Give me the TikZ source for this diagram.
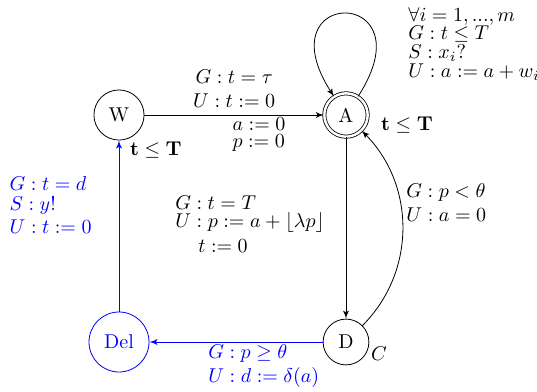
\documentclass[tikz,border=0pt]{standalone}
\usepackage{amsmath, amssymb}
\usepackage{xcolor}
\usetikzlibrary{arrows,positioning}

\begin{document}
\begin{tikzpicture}[
	node distance=113.5pt,
	>=latex',
	loc/.style={
		circle,
		draw,
		inner sep=4.5pt
	},
	line/.style={
		draw,
		->
	},
	upd/.style={
		align=left,
		inner sep=#1
	},
	upd/.default=3pt
	]
	\useasboundingbox (-59.5pt,-138.5pt) rectangle (209pt,57.5pt);
	
	% Locations
	\node[loc, label={[anchor=north west, inner sep=1pt]-70:$\mathbf{t \leq T}$}] (W) at (0,0) {W};
	\node[loc, double, double distance=1.2pt, inner sep=4pt, on grid, right=of W,
		label={[label distance=3pt, yshift=-5pt]right:$\mathbf{t \leq T}$}] (A) {A};
	\node[loc, on grid, below=of A,
		label={[label distance=-1pt, xshift=-1pt, yshift=5pt]-20:$C$}] (D) {D};
	\node[loc, draw=blue, text=blue, minimum size=30pt, on grid, below=of W] (Del) {Del};
	
	% Transitions
	\path[line] (W) -- node[above, align=center] {$G : t = \tau$\\$U : t := 0$}
		node[below right, upd=1pt, xshift=-2pt] {$a := 0$\\[-3.5pt]$p := 0$} (A);
	\path[line] (A) to[out=57, in=123, looseness=8, min distance=66pt] (A);
	\node[upd, anchor=west] (sel) at ([shift={(28pt,35.5pt)}]A.center)
		{$\forall i = 1, ..., m$\\[-3pt]$G : t \leq T$\\[-2.5pt]$S : x_i?$\\[-2.5pt]$U : a := a + w_i$};
	\path[line] (A) -- node[left, xshift=-7.5pt, pos=0.48, upd]
		{$G : t = T$\\[-3pt]$U : p := a + \lfloor \lambda p \rfloor$\\[0.5pt]\hspace{11.5pt}$t := 0$} (D);
	\path[line] (D) to[out=45, in=-45] node[right, pos=0.62, upd] {$G : p < \theta$\\$U : a = 0$} (A);
	
	% Delivery
	\path[line, blue] (D) -- node[below, pos=0.34, upd=1pt, text=blue]
		{$G : p \geq \theta$\\$U : d := \delta(a)$} (Del);
	\path[line, blue] (Del) -- node[left, xshift=-10.5pt, pos=0.62, upd, text=blue]
		{$G : t = d$\\[-2pt]$S : y!$\\[-0.5pt]$U : t := 0$} (W);
	
\end{tikzpicture}
\end{document}
